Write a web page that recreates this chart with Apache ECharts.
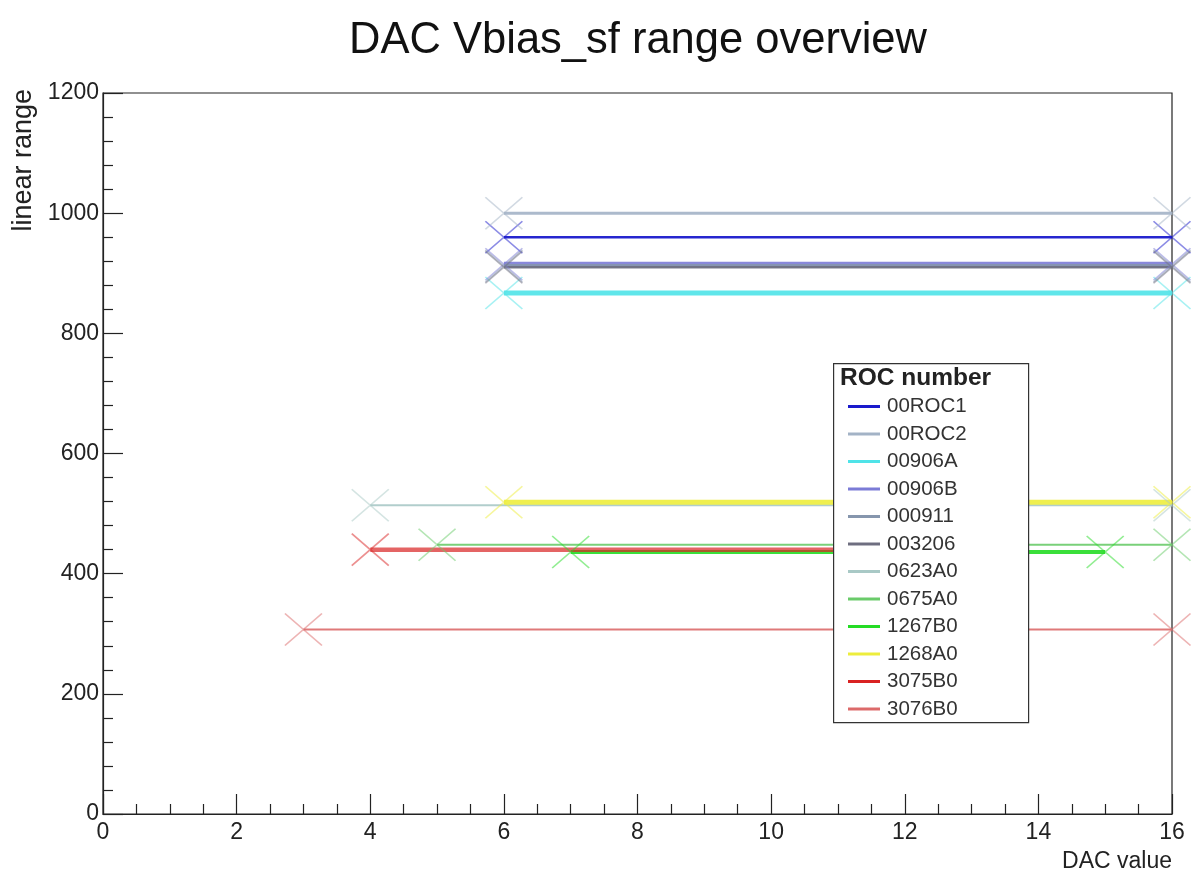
<!DOCTYPE html>
<html>
<head>
<meta charset="utf-8">
<script src="https://cdn.jsdelivr.net/npm/echarts@6/dist/echarts.min.js"></script>
<style>html,body{margin:0;padding:0;background:#fff}#c{width:1192px;height:888px}</style>
</head>
<body>
<div id="c"></div>
<script>
// ROC chips and their linear Vbias_sf DAC ranges
const rocNames = ['00ROC1','00ROC2','00906A','00906B','000911','003206','0623A0','0675A0','1267B0','1268A0','3075B0','3076B0'];
const rangeStart = [6, 6, 6, 6, 6, 6, 4, 5, 7, 6, 4, 3];
const rangeEnd   = [16, 16, 16, 16, 16, 16, 16, 16, 15, 16, 13, 16];
const linearRange = [960, 1000, 867, 915, 912, 910, 514, 448, 436, 519, 440, 307];
const rocColors = ['#1a1acc','#a3b3c6','#4fe3e8','#7b7bd6','#8696ad','#6e6e80','#a9c9c6','#6acb6a','#25dc25','#eded3c','#d92222','#dc6a6a'];
const lineWidths = [2.5, 3, 5, 5, 4, 2.5, 2, 2, 4, 5, 4.5, 2];
const lineAlpha  = [0.95, 0.9, 0.9, 0.9, 0.9, 0.9, 0.9, 0.9, 0.9, 0.9, 0.7, 0.9];
const xTicks = [0, 2, 4, 6, 8, 10, 12, 14, 16];
const yTicks = [0, 200, 400, 600, 800, 1000, 1200];

const FONT = 'Liberation Sans, Arial, Helvetica, sans-serif';
const crossSymbol = 'path://M0,0L10,10M10,0L0,10';

const series = rocNames.map((name, i) => ({
  name: name,
  type: 'line',
  color: rocColors[i],
  data: [[rangeStart[i], linearRange[i]], [rangeEnd[i], linearRange[i]]],
  symbol: crossSymbol,
  symbolSize: [37, 32],
  showSymbol: true,
  lineStyle: { color: rocColors[i], width: lineWidths[i], opacity: lineAlpha[i] },
  itemStyle: { color: 'none', borderColor: rocColors[i], borderWidth: 1.6, opacity: 0.5 },
  emphasis: { disabled: true },
  animation: false,
  z: 2
}));

const legendData = rocNames.map((name, i) => ({
  name: name,
  icon: 'rect',
  itemStyle: { color: rocColors[i], borderWidth: 0, opacity: 1 }
}));

const chart = echarts.init(document.getElementById('c'), null, { renderer: 'canvas' });
chart.setOption({
  backgroundColor: '#ffffff',
  animation: false,
  grid: { left: 103, right: 20, top: 93, bottom: 74, outerBoundsMode: 'none', containLabel: false,
          show: true, borderColor: '#222', borderWidth: 1.2, backgroundColor: '#fff' },
  xAxis: {
    type: 'value', min: 0, max: 16, interval: 2,
    axisLine: { lineStyle: { color: '#222', width: 1.2 } },
    axisTick: { inside: true, length: 20, lineStyle: { color: '#222', width: 1.2 } },
    minorTick: { show: true, splitNumber: 4, length: 10, lineStyle: { color: '#222', width: 1.2 } },
    axisLabel: { fontFamily: FONT, fontSize: 23, color: '#222', margin: 7,
      formatter: v => xTicks.includes(v) ? String(v) : '' },
    splitLine: { show: false }
  },
  yAxis: {
    type: 'value', min: 0, max: 1200, interval: 200,
    axisLine: { lineStyle: { color: '#222', width: 1.2 } },
    axisTick: { inside: true, length: 20, lineStyle: { color: '#222', width: 1.2 } },
    minorTick: { show: true, splitNumber: 5, length: 10, lineStyle: { color: '#222', width: 1.2 } },
    axisLabel: { fontFamily: FONT, fontSize: 23, color: '#222', margin: 4,
      formatter: v => yTicks.includes(v) ? String(v) : '' },
    splitLine: { show: false }
  },
  legend: {
    orient: 'vertical',
    left: 843, top: 391,
    itemWidth: 32, itemHeight: 3, itemGap: 6.5,
    data: legendData,
    selectedMode: false,
    z: 100,
    textStyle: { fontFamily: FONT, fontSize: 20.5, color: '#333', padding: [0, 0, 0, 2] }
  },
  graphic: [
    // title, centred over the plot frame
    { type: 'text', x: 638, y: 41, z: 95,
      style: { text: 'DAC Vbias_sf range overview', fontFamily: FONT, fontSize: 43.5, fill: '#111', align: 'center', verticalAlign: 'middle' } },
    // legend frame and header
    { type: 'rect', left: 833, top: 363, z: 90,
      shape: { width: 195, height: 359 },
      style: { fill: '#ffffff', stroke: '#333', lineWidth: 1.2 } },
    { type: 'text', left: 840, top: 366, z: 95,
      style: { text: 'ROC number', fontFamily: FONT, fontSize: 24.5, fontWeight: 'bold', fill: '#222' } },
    // axis titles
    { type: 'text', x: 1172, y: 862, z: 95,
      style: { text: 'DAC value', fontFamily: FONT, fontSize: 23, fill: '#222', align: 'right', verticalAlign: 'middle' } },
    { type: 'text', x: 24, y: 89, rotation: Math.PI / 2, z: 95,
      style: { text: 'linear range', fontFamily: FONT, fontSize: 27, fill: '#222', align: 'right', verticalAlign: 'middle' } }
  ],
  series: series
});
</script>
</body>
</html>
